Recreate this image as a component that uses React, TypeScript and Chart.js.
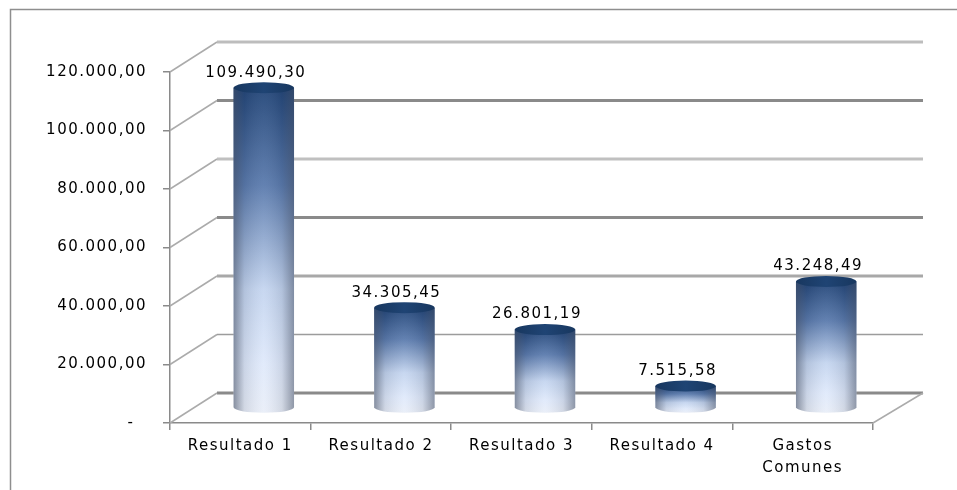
import React, { useEffect, useRef } from "react";
import { Chart, registerables } from "chart.js";

Chart.register(...registerables);

const categories: (string | string[])[] = [
  "Resultado 1",
  "Resultado 2",
  "Resultado 3",
  "Resultado 4",
  ["Gastos", "Comunes"],
];
const values: number[] = [109490.3, 34305.45, 26801.19, 7515.58, 43248.49];
const yMin = 0;
const yMax = 120000;
const yStep = 20000;

const DX = 47;
const DY = -30;
const FONT = "DejaVu Sans";

function fmt(v: number): string {
  const [i, d] = v.toFixed(2).split(".");
  return i.replace(/\B(?=(\d{3})+(?!\d))/g, ".") + "," + d;
}

const wallStyles: { c: string; w: number }[] = [
  { c: "#8a8a8a", w: 3 },
  { c: "#9c9c9c", w: 1.5 },
  { c: "#a8a8a8", w: 3 },
  { c: "#8a8a8a", w: 3 },
  { c: "#c0c0c0", w: 3 },
  { c: "#8a8a8a", w: 3 },
  { c: "#bdbdbd", w: 3 },
];

const spacingPlugin = {
  id: "spacing",
  beforeUpdate(chart: any) {
    (chart.ctx as any).letterSpacing = "1.5px";
  },
  beforeDraw(chart: any) {
    (chart.ctx as any).letterSpacing = "1.5px";
  },
};

const wallsPlugin = {
  id: "walls",
  beforeDatasetsDraw(chart: any) {
    const ctx: CanvasRenderingContext2D = chart.ctx;
    const ys = chart.scales.y;
    const { left, right, bottom } = chart.chartArea;
    ctx.save();
    // outer frame
    ctx.strokeStyle = "#8e8e8e";
    ctx.lineWidth = 1.5;
    ctx.beginPath();
    ctx.moveTo(10.5, 1000);
    ctx.lineTo(10.5, 9.5);
    ctx.lineTo(1000, 9.5);
    ctx.stroke();
    // back wall gridlines + left wall diagonals
    const ticks = ys.ticks.map((t: any) => t.value);
    ticks.forEach((v: number, idx: number) => {
      const y = ys.getPixelForValue(v);
      const st = wallStyles[idx % wallStyles.length];
      ctx.strokeStyle = st.c;
      ctx.lineWidth = st.w;
      ctx.beginPath();
      ctx.moveTo(left + DX, y + DY);
      ctx.lineTo(right + DX + 3, y + DY);
      ctx.stroke();
      ctx.strokeStyle = "#ababab";
      ctx.lineWidth = 1.5;
      ctx.beginPath();
      ctx.moveTo(left, y);
      ctx.lineTo(left + DX, y + DY);
      ctx.stroke();
    });
    // floor right edge
    ctx.strokeStyle = "#ababab";
    ctx.lineWidth = 1.5;
    ctx.beginPath();
    ctx.moveTo(right, bottom);
    ctx.lineTo(right + DX + 3, bottom + DY);
    ctx.stroke();
    ctx.restore();
  },
  afterDatasetsDraw(chart: any) {
    const ctx: CanvasRenderingContext2D = chart.ctx;
    const xs = chart.scales.x;
    const meta = chart.getDatasetMeta(0);
    const catW = xs.width / chart.data.labels.length;
    const w = catW * 0.43;
    const rx = w / 2;
    const ry = 5.5;
    ctx.save();
    meta.data.forEach((el: any, i: number) => {
      const p = el.getProps(["x", "y", "base"], true);
      const cx = p.x + DX / 2;
      const top = p.y + DY / 2;
      const bot = p.base + DY / 2;
      const l = cx - rx;
      const r = cx + rx;
      // body
      ctx.beginPath();
      ctx.moveTo(l, top);
      ctx.lineTo(l, bot);
      ctx.ellipse(cx, bot, rx, ry, 0, Math.PI, 0, true);
      ctx.lineTo(r, top);
      ctx.closePath();
      const vg = ctx.createLinearGradient(0, top, 0, bot + ry);
      vg.addColorStop(0, "#1c4074");
      vg.addColorStop(0.3, "#5677ab");
      vg.addColorStop(0.62, "#c3d4ef");
      vg.addColorStop(0.85, "#dfe9fb");
      vg.addColorStop(1, "#e9eef8");
      ctx.fillStyle = vg;
      ctx.fill();
      const hg = ctx.createLinearGradient(l, 0, r, 0);
      hg.addColorStop(0, "rgba(70,80,100,0.6)");
      hg.addColorStop(0.18, "rgba(70,80,100,0.14)");
      hg.addColorStop(0.5, "rgba(255,255,255,0.08)");
      hg.addColorStop(0.8, "rgba(70,80,100,0.14)");
      hg.addColorStop(1, "rgba(70,80,100,0.55)");
      ctx.fillStyle = hg;
      ctx.fill();
      // cap
      ctx.beginPath();
      ctx.ellipse(cx, top, rx, ry, 0, 0, Math.PI * 2);
      const cg = ctx.createLinearGradient(l, 0, r, 0);
      cg.addColorStop(0, "#18375f");
      cg.addColorStop(0.5, "#1f4474");
      cg.addColorStop(1, "#18375f");
      ctx.fillStyle = cg;
      ctx.fill();
      // label
      ctx.fillStyle = "#000000";
      ctx.font = `15px "${FONT}"`;
      ctx.textAlign = "center";
      ctx.textBaseline = "middle";
      ctx.fillText(fmt(values[i]), cx - 8, top - 15);
    });
    ctx.restore();
  },
};

export default function App() {
  const ref = useRef<HTMLCanvasElement | null>(null);
  useEffect(() => {
    if (!ref.current) return;
    const font = { family: FONT, size: 15 };
    const chart = new Chart(ref.current, {
      type: "bar",
      data: {
        labels: categories,
        datasets: [
          {
            data: values,
            backgroundColor: "rgba(0,0,0,0)",
            borderWidth: 0,
            barPercentage: 0.43,
            categoryPercentage: 1,
          },
        ],
      },
      options: {
        animation: false,
        responsive: false,
        devicePixelRatio: 1,
        layout: { padding: { top: 72, right: 84, bottom: 0, left: 0 } },
        plugins: { legend: { display: false }, tooltip: { enabled: false } },
        scales: {
          x: {
            type: "category",
            offset: true,
            grid: {
              offset: true,
              drawOnChartArea: false,
              drawTicks: true,
              tickLength: 7,
              color: "#8a8a8a",
              lineWidth: 1.5,
            },
            border: { display: true, color: "#8a8a8a", width: 1.5 },
            ticks: {
              color: "#000000",
              font: { ...font, lineHeight: 1.47 },
              padding: 5,
              maxRotation: 0,
              autoSkip: false,
            },
            afterFit: (s: any) => {
              s.height = 67;
            },
          },
          y: {
            min: yMin,
            max: yMax,
            grid: {
              drawOnChartArea: false,
              tickLength: 7,
              color: "#8a8a8a",
              lineWidth: 1.5,
            },
            border: { display: true, color: "#8a8a8a", width: 1.5 },
            ticks: {
              stepSize: yStep,
              color: "#000000",
              font,
              padding: 16,
              callback: (v: any) => (Number(v) === 0 ? "-  " : fmt(Number(v))),
            },
            afterFit: (s: any) => {
              s.width = 170;
            },
          },
        },
      },
      plugins: [spacingPlugin, wallsPlugin],
    } as any);
    return () => chart.destroy();
  }, []);
  return (
    <div style={{ position: "fixed", left: 0, top: 0, width: 957, height: 490, background: "#fff" }}>
      <canvas ref={ref} width={957} height={490} style={{ display: "block" }} />
    </div>
  );
}
